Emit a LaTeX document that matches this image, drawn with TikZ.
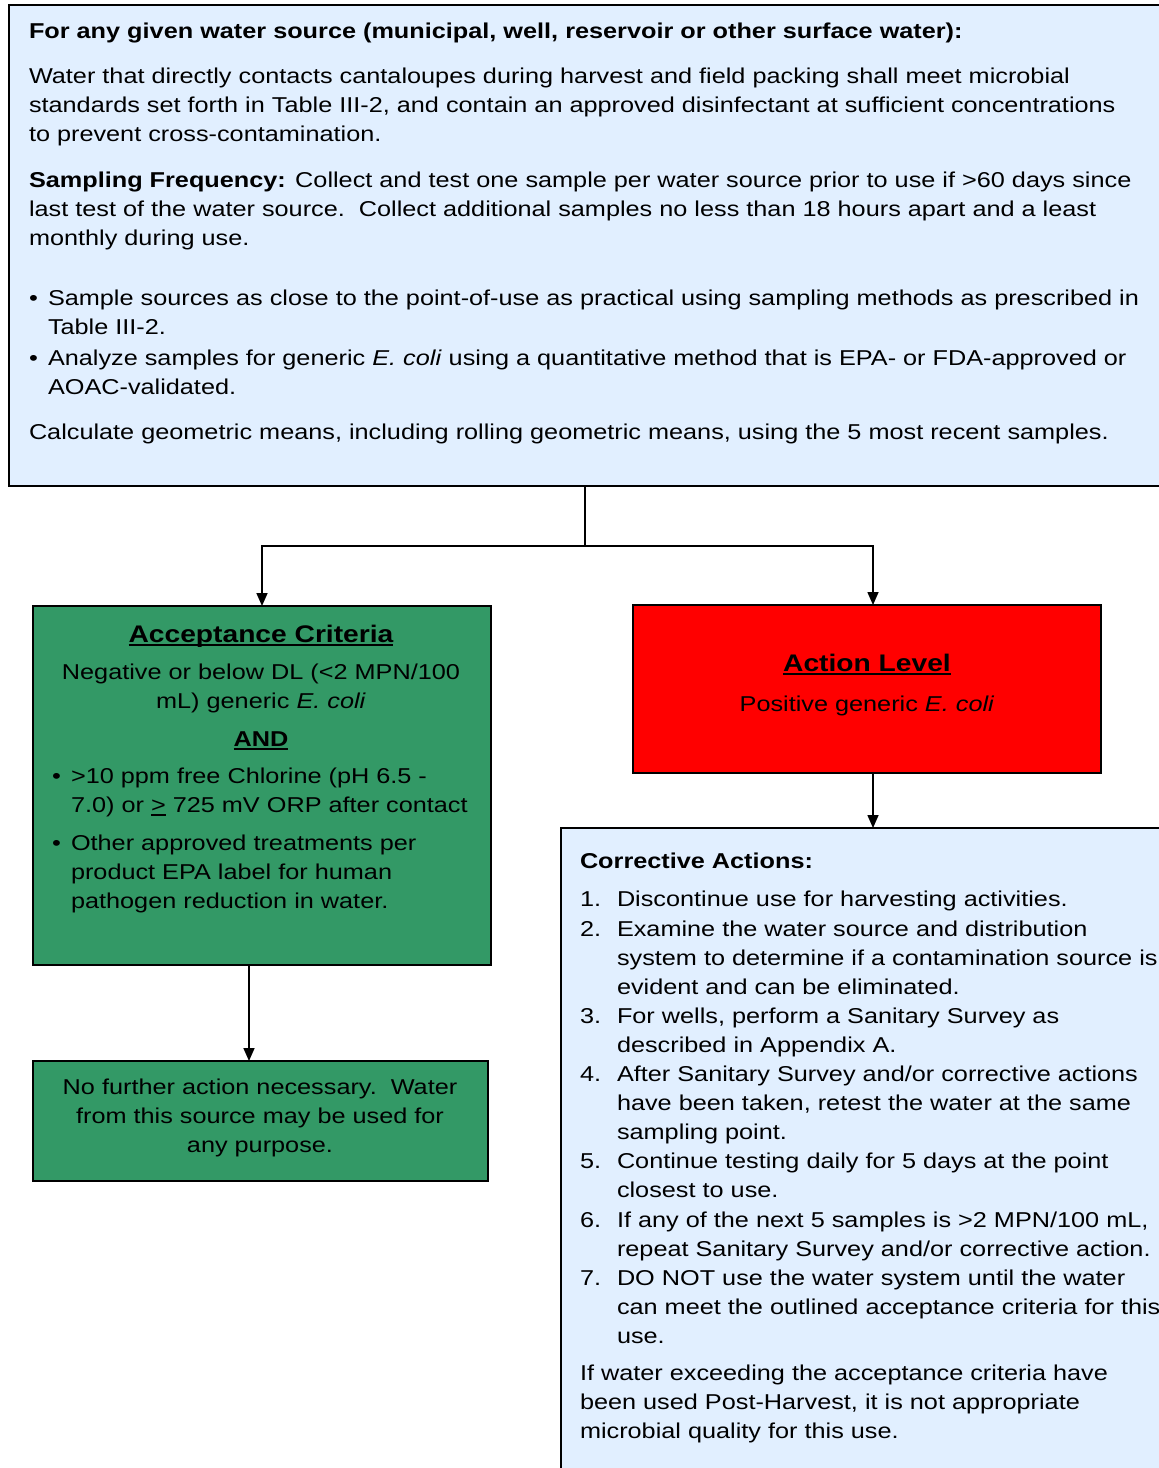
\documentclass[tikz,border=0pt]{standalone}
\usepackage{fontspec}
\setmainfont{Liberation Sans}[FakeStretch=1.175]
\usetikzlibrary{arrows.meta}
\definecolor{lblue}{HTML}{E1EFFF}
\definecolor{dgreen}{HTML}{339966}
\definecolor{actred}{HTML}{FF0000}
\newcommand{\hul}[1]{\setbox0=\hbox{#1}\leavevmode\rlap{\rule[-3.8pt]{\wd0}{2pt}}\box0\relax}
\begin{document}
\begin{tikzpicture}[x=1pt,y=-1pt,
  every node/.style={inner sep=0pt,outer sep=0pt},
  font=\fontsize{21.5}{29}\selectfont,
  box/.style={draw=black,line width=1.6pt,anchor=north west,inner sep=0pt},
  ln/.style={anchor=base west},
  cl/.style={anchor=base},
  head/.style={anchor=base,font=\fontsize{24}{29}\selectfont\bfseries},
  arr/.style={line width=1.6pt,-{Triangle[length=13pt,width=11pt]}}]
\useasboundingbox (0,0) rectangle (1159,1468);
\clip (0,0) rectangle (1159,1468);
% boxes
\node[box,fill=lblue,minimum width=1170pt,minimum height=481pt] (src) at (9,5) {};
\node[box,fill=dgreen,minimum width=458pt,minimum height=359pt] (acc) at (33,606) {};
\node[box,fill=actred,minimum width=468pt,minimum height=168pt] (act) at (633,605) {};
\node[box,fill=lblue,minimum width=620pt,minimum height=660pt] (corr) at (561,828) {};
\node[box,fill=dgreen,minimum width=455pt,minimum height=120pt] (ok) at (33,1061) {};
% connectors
\coordinate (j) at (585,546);
\draw[line width=1.6pt] (j |- src.south) -- (j);
\draw[arr] (j) -| (acc.north);
\draw[arr] (j) -| ([xshift=6pt]act.north);
\draw[arr] ([xshift=6pt]act.south) -- ([xshift=6pt]act.south |- corr.north);
\draw[arr] ([xshift=-13pt]acc.south) -- ([xshift=-13pt]acc.south |- ok.north);
% top box text
\node[ln] (s1) at (29,38) {\textbf{For any given water source (municipal, well, reservoir or other surface water):}};
\node[ln] (s2) at (29,83) {Water that directly contacts cantaloupes during harvest and field packing shall meet microbial};
\node[ln] (s3) at (29,112) {standards set forth in Table III-2, and contain an approved disinfectant at sufficient concentrations};
\node[ln] (s4) at (29,141) {to prevent cross-contamination.};
\node[ln] (s5) at (29,187) {\textbf{Sampling Frequency:} Collect and test one sample per water source prior to use if >60 days since};
\node[ln] (s6) at (29,216) {last test of the water source.\ \ Collect additional samples no less than 18 hours apart and a least};
\node[ln] (s7) at (29,245) {monthly during use.};
\node[ln] (b1) at (29,305) {\textbullet};
\node[ln] (s8) at (48,305) {Sample sources as close to the point-of-use as practical using sampling methods as prescribed in};
\node[ln] (s9) at (48,334) {Table III-2.};
\node[ln] (b2) at (29,365) {\textbullet};
\node[ln] (s10) at (48,365) {Analyze samples for generic \textit{E. coli} using a quantitative method that is EPA- or FDA-approved or};
\node[ln] (s11) at (48,394) {AOAC-validated.};
\node[ln] (s12) at (29,439) {Calculate geometric means, including rolling geometric means, using the 5 most recent samples.};
% acceptance
\node[head] (a1) at (261,642) {\hul{Acceptance Criteria}};
\node[cl] (a2) at (261,679) {Negative or below DL (<2 MPN/100};
\node[cl] (a3) at (261,708) {mL) generic \textit{E. coli}};
\node[cl] (a4) at (261,746) {\hul{\textbf{AND}}};
\node[ln] (b3) at (52,783) {\textbullet};
\node[ln] (a5) at (71,783) {>10 ppm free Chlorine (pH 6.5 -};
\node[ln] (a6) at (71,812) {7.0) or \hul{>} 725 mV ORP after contact};
\node[ln] (b4) at (52,850) {\textbullet};
\node[ln] (a7) at (71,850) {Other approved treatments per};
\node[ln] (a8) at (71,879) {product EPA label for human};
\node[ln] (a9) at (71,908) {pathogen reduction in water.};
% action level
\node[head] (l1) at (867,671) {\hul{Action Level}};
\node[cl] (l2) at (867,711) {Positive generic \textit{E. coli}};
% ok
\node[cl] (o1) at (260,1094) {No further action necessary.\ \ Water};
\node[cl] (o2) at (260,1123) {from this source may be used for};
\node[cl] (o3) at (260,1152) {any purpose.};
% corrective
\node[ln] (c0) at (580,868) {\textbf{Corrective Actions:}};
\node[ln] (n1) at (580,906) {1.};
\node[ln] (c1) at (617,906) {Discontinue use for harvesting activities.};
\node[ln] (n2) at (580,936) {2.};
\node[ln] (c2) at (617,936) {Examine the water source and distribution};
\node[ln] (c3) at (617,965) {system to determine if a contamination source is};
\node[ln] (c4) at (617,994) {evident and can be eliminated.};
\node[ln] (n3) at (580,1023) {3.};
\node[ln] (c5) at (617,1023) {For wells, perform a Sanitary Survey as};
\node[ln] (c6) at (617,1052) {described in Appendix A.};
\node[ln] (n4) at (580,1081) {4.};
\node[ln] (c7) at (617,1081) {After Sanitary Survey and/or corrective actions};
\node[ln] (c8) at (617,1110) {have been taken, retest the water at the same};
\node[ln] (c9) at (617,1139) {sampling point.};
\node[ln] (n5) at (580,1168) {5.};
\node[ln] (c10) at (617,1168) {Continue testing daily for 5 days at the point};
\node[ln] (c11) at (617,1197) {closest to use.};
\node[ln] (n6) at (580,1227) {6.};
\node[ln] (c12) at (617,1227) {If any of the next 5 samples is >2 MPN/100 mL,};
\node[ln] (c13) at (617,1256) {repeat Sanitary Survey and/or corrective action.};
\node[ln] (n7) at (580,1285) {7.};
\node[ln] (c14) at (617,1285) {DO NOT use the water system until the water};
\node[ln] (c15) at (617,1314) {can meet the outlined acceptance criteria for this};
\node[ln] (c16) at (617,1343) {use.};
\node[ln] (c17) at (580,1380) {If water exceeding the acceptance criteria have};
\node[ln] (c18) at (580,1409) {been used Post-Harvest, it is not appropriate};
\node[ln] (c19) at (580,1438) {microbial quality for this use.};
\end{tikzpicture}
\end{document}
